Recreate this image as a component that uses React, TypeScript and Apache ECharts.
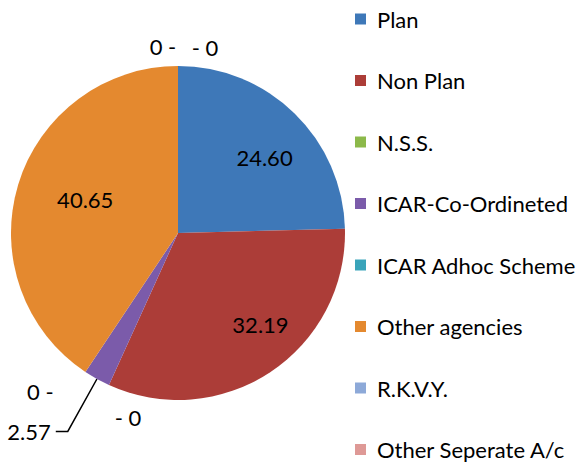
import React, { useEffect, useRef } from "react";
import * as echarts from "echarts";

const categories = [
  "Plan",
  "Non Plan",
  "N.S.S.",
  "ICAR-Co-Ordineted",
  "ICAR Adhoc Scheme",
  "Other agencies",
  "R.K.V.Y.",
  "Other Seperate A/c",
];
const values = [24.6, 32.19, 0, 2.57, 0, 40.65, 0, 0];
const colors = ["#3E78B8", "#AC3D38", "#8CB94A", "#7B5BAA", "#3AA4BA", "#E4892F", "#8DA9D8", "#DE9996"];

// side of the short leader dash for zero-value labels and label nudges (style only)
const zeroDashSide: Record<number, "left" | "right"> = { 2: "left", 4: "right", 6: "right", 7: "left" };
const zeroNudge: Record<number, [number, number]> = { 2: [19, 32], 4: [-45, 20], 6: [-15, -20], 7: [27, -19] };
const bigNudge: Record<number, [number, number]> = { 0: [5, 8], 1: [18, -6], 5: [19, 0] };

const CX = 178;
const CY = 233;
const R = 167;

export default function App() {
  const ref = useRef<HTMLDivElement>(null);
  useEffect(() => {
    const chart = echarts.init(ref.current!, null, { renderer: "svg" });
    const total = values.reduce((a, b) => a + b, 0);
    const cumStart: number[] = [];
    values.reduce((acc, v, i) => {
      cumStart[i] = acc;
      return acc + v;
    }, 0);
    const anchor = (i: number) => {
      const a = ((cumStart[i] + values[i] / 2) / total) * Math.PI * 2;
      return [CX + R * Math.sin(a), CY - R * Math.cos(a)];
    };
    const data = categories.map((name, i) => {
      const v = values[i];
      const big = v >= 10;
      return {
        name,
        value: v,
        itemStyle: { color: colors[i] },
        label: big
          ? { position: "inside", formatter: (p: any) => p.value.toFixed(2) }
          : {
              position: "outside",
              formatter: (p: any) =>
                p.value === 0 ? (zeroDashSide[p.dataIndex] === "left" ? "- 0" : "0 -") : p.value.toFixed(2),
            },
        labelLine: big || v === 0
          ? { show: false }
          : { show: true, length: 60, length2: 12, lineStyle: { color: "#000", width: 1.5 } },
      };
    });
    chart.setOption({
      animation: false,
      backgroundColor: "#fff",
      legend: {
        orient: "vertical",
        left: 355,
        top: 8,
        bottom: 0,
        padding: 0,
        itemWidth: 11,
        itemHeight: 11,
        itemGap: 39.5,
        icon: "rect",
        textStyle: { fontFamily: "Lato", fontSize: 22, color: "#000", lineHeight: 22, padding: [0, 0, 0, 6] },
        data: categories,
      },
      series: [
        {
          type: "pie",
          center: [CX, CY],
          radius: R,
          startAngle: 90,
          clockwise: true,
          avoidLabelOverlap: false,
          stillShowZeroSum: true,
          label: { fontFamily: "Lato", fontSize: 22, color: "#000" },
          labelLayout: (p: any) => {
            const i = p.dataIndex;
            if (values[i] >= 10) {
              const lx = p.labelRect.x + p.labelRect.width / 2;
              const ly = p.labelRect.y + p.labelRect.height / 2;
              const n = bigNudge[i] || [0, 0];
              return { dx: (lx - CX) * 0.35 + n[0], dy: (ly - CY) * 0.35 + n[1] };
            }
            if (values[i] === 0) {
              const [ax, ay] = anchor(i);
              const n = zeroNudge[i] || [0, 0];
              return { x: ax + n[0], y: ay + n[1], align: "center", verticalAlign: "middle" };
            }
            return {};
          },
          data,
        },
      ],
    });
    return () => chart.dispose();
  }, []);
  return <div ref={ref} style={{ width: 582, height: 464, position: "absolute", left: 0, top: 0 }} />;
}
